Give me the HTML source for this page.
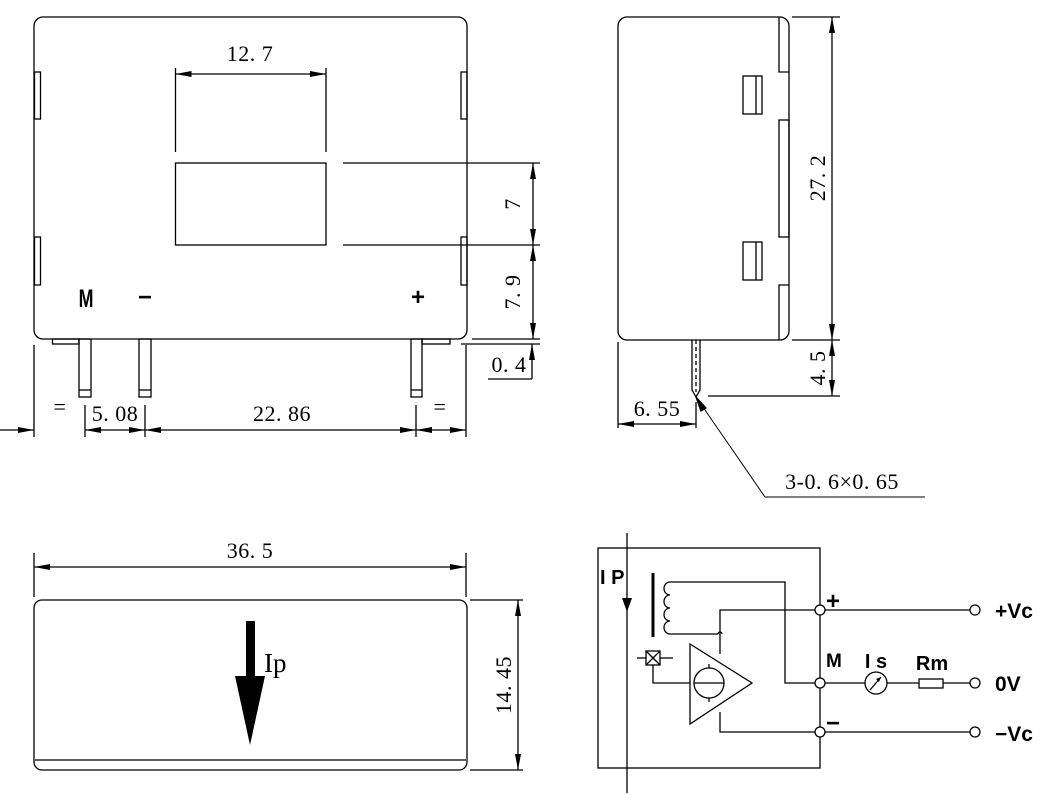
<!DOCTYPE html>
<html><head><meta charset="utf-8"><style>
html,body{margin:0;padding:0;background:#fff;}
svg{display:block;}
.d{font-family:"Liberation Serif",serif;font-size:22px;fill:#000;letter-spacing:0.5px;}
.s{font-family:"Liberation Sans",sans-serif;font-weight:bold;fill:#000;}
</style></head><body>
<svg width="1059" height="795" viewBox="0 0 1059 795" xmlns="http://www.w3.org/2000/svg">
<defs>
<marker id="a" viewBox="0 0 16 6" refX="16" refY="3" markerWidth="16" markerHeight="6" orient="auto-start-reverse" markerUnits="userSpaceOnUse"><path d="M0,0 L16,3 L0,6 Z" fill="#000"/></marker>
</defs>
<g fill="none" stroke="#000" stroke-width="1.3">
<rect x="34" y="17" width="433" height="322" rx="9"/>
<rect x="34.5" y="72" width="6" height="47"/><rect x="34.5" y="237" width="6" height="48"/>
<rect x="461" y="72" width="6" height="47"/><rect x="461" y="237" width="6" height="48"/>
<rect x="175.5" y="163" width="150.5" height="82"/>
<line x1="175.5" y1="68" x2="175.5" y2="152"/><line x1="326" y1="68" x2="326" y2="152"/>
<line x1="175.5" y1="74" x2="326" y2="74" marker-start="url(#a)" marker-end="url(#a)"/>
<line x1="343" y1="163" x2="540" y2="163"/><line x1="343" y1="245" x2="540" y2="245"/>
<line x1="533" y1="163" x2="533" y2="245" marker-start="url(#a)" marker-end="url(#a)"/>
<line x1="533" y1="245" x2="533" y2="339" marker-start="url(#a)" marker-end="url(#a)"/>
<line x1="472" y1="339" x2="540" y2="339"/>
<line x1="461" y1="344" x2="540" y2="344"/>
<line x1="532" y1="379" x2="532" y2="344" marker-end="url(#a)"/>
<line x1="488" y1="379" x2="532" y2="379"/>
<rect x="52.5" y="339" width="26.5" height="5"/><rect x="422" y="339" width="28" height="5"/>
<rect x="79" y="339" width="12" height="58"/><line x1="79" y1="390" x2="91" y2="390"/>
<rect x="139" y="339" width="12" height="58"/><line x1="139" y1="390" x2="151" y2="390"/>
<rect x="411" y="339" width="11" height="58"/><line x1="411" y1="390" x2="422" y2="390"/>
<line x1="34" y1="345" x2="34" y2="437"/><line x1="85" y1="405" x2="85" y2="437"/>
<line x1="145" y1="405" x2="145" y2="437"/><line x1="416" y1="405" x2="416" y2="437"/>
<line x1="466" y1="345" x2="466" y2="437"/>
<line x1="0" y1="430" x2="34" y2="430" marker-end="url(#a)"/>
<line x1="85" y1="430" x2="145" y2="430" marker-start="url(#a)" marker-end="url(#a)"/>
<line x1="145" y1="430" x2="416" y2="430" marker-start="url(#a)" marker-end="url(#a)"/>
<line x1="416" y1="430" x2="466" y2="430" marker-start="url(#a)" marker-end="url(#a)"/>
<rect x="618" y="17" width="171" height="323" rx="9"/>
<polyline points="789,72 779,72 779,17"/>
<rect x="779" y="120" width="10" height="117"/>
<polyline points="789,285 779,285 779,340"/>
<rect x="743" y="76" width="19" height="38"/><line x1="756" y1="76" x2="756" y2="114"/>
<rect x="743" y="242" width="19" height="38"/><line x1="756" y1="242" x2="756" y2="280"/>
<line x1="792" y1="17" x2="840" y2="17"/><line x1="792" y1="340" x2="840" y2="340"/>
<line x1="832" y1="17" x2="832" y2="340" marker-start="url(#a)" marker-end="url(#a)"/>
<line x1="832" y1="340" x2="832" y2="396" marker-start="url(#a)" marker-end="url(#a)"/>
<line x1="708" y1="396" x2="840" y2="396"/>
<path d="M692,340 V390 L696,397 L700,390 V340"/>
<line x1="696" y1="340" x2="696" y2="392" stroke-dasharray="4,3"/>
<line x1="618" y1="342" x2="618" y2="428"/><line x1="696" y1="402" x2="696" y2="428"/>
<line x1="618" y1="424" x2="696" y2="424" marker-start="url(#a)" marker-end="url(#a)"/>
<polyline points="925,497 765,497 696,397" stroke-width="1"/>
<path d="M696,397 L701,411 L706,408 Z" fill="#000"/>
<line x1="34" y1="553" x2="34" y2="597"/><line x1="466" y1="553" x2="466" y2="597"/>
<line x1="34" y1="567" x2="466" y2="567" marker-start="url(#a)" marker-end="url(#a)"/>
<rect x="34" y="600" width="433" height="170" rx="8"/>
<line x1="35" y1="760" x2="466" y2="760"/>
<line x1="470" y1="600" x2="523" y2="600"/><line x1="470" y1="770" x2="523" y2="770"/>
<line x1="518" y1="600" x2="518" y2="770" marker-start="url(#a)" marker-end="url(#a)"/>
</g>
<rect x="246" y="621" width="9" height="56" fill="#000"/>
<path d="M235,676 L265,676 L250,745 Z" fill="#000"/>
<text x="264" y="672" font-family="Liberation Serif,serif" font-size="27">Ip</text>
<text class="d" x="250" y="61" text-anchor="middle">12. 7</text>
<text class="d" x="520" y="204" text-anchor="middle" transform="rotate(-90 520 204)">7</text>
<text class="d" x="520" y="292" text-anchor="middle" transform="rotate(-90 520 292)">7. 9</text>
<text class="d" x="509" y="372" text-anchor="middle">0. 4</text>
<text class="d" x="60" y="414" text-anchor="middle" font-size="17">=</text>
<text class="d" x="440" y="414" text-anchor="middle" font-size="17">=</text>
<text class="d" x="115" y="421" text-anchor="middle">5. 08</text>
<text class="d" x="282" y="421" text-anchor="middle">22. 86</text>
<text class="d" x="825" y="178" text-anchor="middle" transform="rotate(-90 825 178)">27. 2</text>
<text class="d" x="825" y="368" text-anchor="middle" transform="rotate(-90 825 368)">4. 5</text>
<text class="d" x="657" y="416" text-anchor="middle">6. 55</text>
<text class="d" x="842" y="489" text-anchor="middle" font-size="23">3-0. 6×0. 65</text>
<text class="d" x="250" y="558" text-anchor="middle">36. 5</text>
<text class="d" x="511" y="685" text-anchor="middle" transform="rotate(-90 511 685)">14. 45</text>
<text class="s" x="0" y="0" text-anchor="middle" font-size="21" transform="translate(86 307) scale(0.85 1.2)">M</text>
<text class="s" x="145" y="305" text-anchor="middle" font-size="24">−</text>
<text class="s" x="418" y="305" text-anchor="middle" font-size="24">+</text>
<g fill="none" stroke="#000" stroke-width="1.3">
<rect x="598" y="548" width="222" height="220"/>
<line x1="627" y1="533" x2="627" y2="793"/>
<line x1="653" y1="573" x2="653" y2="637" stroke-width="3"/>
<path d="M670,582 a6,6.5 0 0 0 0,13 a6,6.5 0 0 0 0,13 a6,6.5 0 0 0 0,13 a6,6.5 0 0 0 0,13"/>
<polyline points="670,582 785,582 785,683 820,683"/>
<polyline points="670,634 718,634 M722,634 769,634 769,683 752,683"/>
<path d="M718,634 a2,2 0 0 1 4,0"/>
<polygon points="690,644 690,724 752,683"/>
<circle cx="709" cy="683" r="15"/>
<line x1="694" y1="683" x2="724" y2="683"/>
<line x1="709" y1="664" x2="709" y2="668"/><line x1="709" y1="698" x2="709" y2="702"/>
<rect x="646" y="651" width="14" height="14"/>
<line x1="646" y1="651" x2="660" y2="665"/><line x1="660" y1="651" x2="646" y2="665"/>
<line x1="637" y1="658" x2="646" y2="658"/><line x1="660" y1="658" x2="673" y2="658"/>
<polyline points="653,665 653,683 690,683"/>
<polyline points="720,654 720,610 815,610"/>
<polyline points="720,712 720,732 815,732"/>
<line x1="825" y1="610" x2="970" y2="610"/>
<line x1="825" y1="683" x2="865" y2="683"/><line x1="887" y1="683" x2="919" y2="683"/><line x1="943" y1="683" x2="970" y2="683"/>
<line x1="825" y1="732" x2="970" y2="732"/>
<circle cx="820" cy="610" r="5" fill="#fff"/><circle cx="820" cy="683" r="5" fill="#fff"/><circle cx="820" cy="732" r="5" fill="#fff"/>
<circle cx="975" cy="610" r="5"/><circle cx="975" cy="683" r="5"/><circle cx="975" cy="732" r="5"/>
<circle cx="876" cy="683" r="11"/>
<line x1="870" y1="690" x2="881" y2="677"/>
<rect x="919" y="679" width="24" height="9"/>
</g>
<path d="M622,598 L632,598 L627,612 Z" fill="#000"/>
<path d="M881,677 L876,679 L879,682 Z" fill="#000"/>
<text class="s" x="600" y="584" font-size="20" font-weight="normal">I P</text>
<text class="s" x="826" y="609" font-size="24">+</text>
<text class="s" x="826" y="667" font-size="19">M</text>
<text class="s" x="826" y="731" font-size="24">−</text>
<text class="s" x="876" y="668" font-size="20" text-anchor="middle" font-weight="normal">I s</text>
<text class="s" x="932" y="670" font-size="20" text-anchor="middle" font-weight="normal">Rm</text>
<text class="s" x="995" y="618" font-size="21" font-weight="normal">+Vc</text>
<text class="s" x="995" y="691" font-size="21" font-weight="normal">0V</text>
<text class="s" x="995" y="741" font-size="21" font-weight="normal">−Vc</text>
</svg>
</body></html>
